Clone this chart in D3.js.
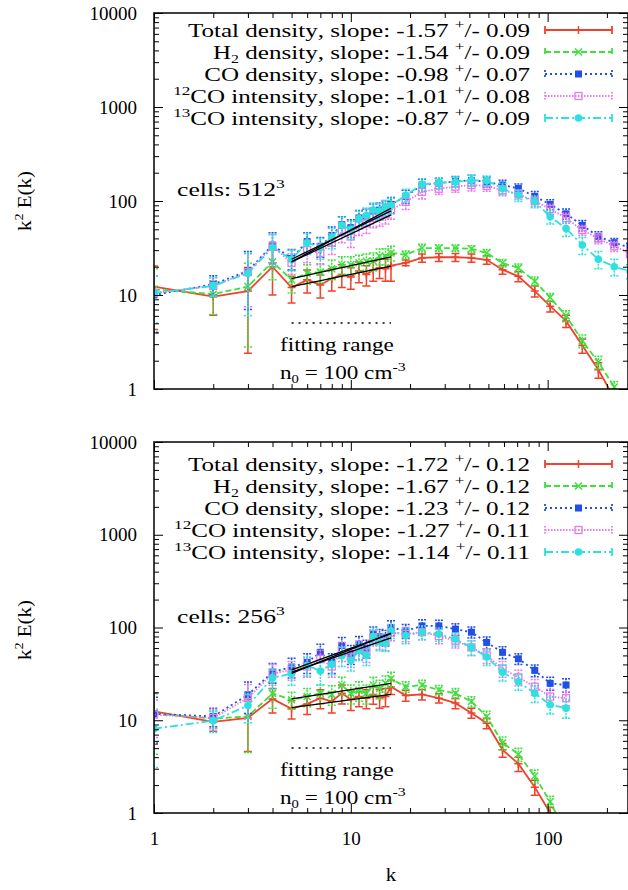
<!DOCTYPE html>
<meta charset="utf-8">
<script src="https://d3js.org/d3.v7.min.js"></script>
<style>
  body { margin: 0; background: #fff; }
</style>
<div id="chart"></div>
<script>
// ---- data: 512^3 run (top panel) ----
const kTop = [1,2,3,4,5,6,7,8,9,10,11,12,13,14,15,16,19,23,28,34,41,49,59,71,86,103,124,150,181,218,262];
const totalTop = [12.3,9.6,11,20,12,14.5,12.8,15,16.5,15.5,18,16.5,18.5,19.5,19,20.5,22,24.8,25.2,25.2,24.8,23.7,18.6,15.8,11,7.6,5.3,2.9,1.6,0.8,0.4];
const h2Top    = [11.5,10.2,12.3,22.5,14.5,17,17.5,19,21,21,22,22.8,23,25.8,26,28,26.8,31.6,31.6,31.6,31,28,21.9,19.4,14,9.4,6,3.25,1.93,1.05,0.5];
const coTop    = [10,13,18,34,24.5,37,33,43,56,52,66,68,78,80,84,92,112,148,155,162,166,160,148,136,112,92,73,55,42,36,32];
const co12Top  = [10.5,12.5,17.5,33,22,30,28,36,47,42,55,58,66,68,72,80,98,125,135,142,148,145,130,118,100,82,66,49,40,33,28];
const co13Top  = [10.5,12.5,17,32,24,36,32,41,55,50,65,70,80,78,86,90,115,150,156,160,166,165,136,115,98.6,68,51,34,24,20,18];
const totalTopErr = [8,3.5,8.6,10,3.8,4,3.5,4,4.5,4,4.5,4,4.5,4.5,5,6.5,1.5,2.5,2.5,2.5,2.5,2.5,2,2,1.5,1,0.8,0.5,0.3,0.15,0.08];
const h2TopErr    = [7.5,4,9.5,8,4,4,4,4.5,4.5,4.5,4.5,4.5,5,5,5,5,2.5,3,2.5,2.5,2.5,2.5,2,2,1.5,1,0.8,0.5,0.3,0.15,0.08];
const coTopErr    = [6,3,11,12,6,9,8,10,12,11,13,14,15,15,16,17,18,22,20,20,22,20,18,16,14,11,9,7,5,4,3.5];
const co12TopErr  = [5.5,2.8,10,11,5.5,8,7,9,11,10,12,13,14,14,15,16,17,20,18,18,20,18,16,14,12,10,8,6,5,4,3];
const co13TopErr  = [5.5,2.8,11,12,6,9,8,10,12,11,13,14,15,15,16,17,18,22,20,20,22,20,18,16,14,11,9,7,5,4,3];
const slopesTop    = [-1.57,-1.54,-0.98,-1.01,-0.87];
const slopeErrTop  = [0.09,0.09,0.07,0.08,0.09];
const fitAmpTop    = [12.3,14.9,24,22.5,22.5];   // k^2 E(k) of each fit at k = 5

// ---- data: 256^3 run (bottom panel) ----
const kBot = [1,2,3,4,5,6,7,8,9,10,11,12,13,14,15,16,19,23,28,34,41,49,59,71,86,103,124];
const totalBot = [12.5,9.6,10.6,17,13.3,15,17.3,16,19.5,16.7,18,17.3,18.9,17.5,18,23,18.5,19,17.3,15.3,12,9.3,4.8,3.4,1.9,1.0,0.45];
const h2Bot    = [11.8,10.4,11,19.5,16.6,18,19.5,19,24,19.5,21,19.5,24,22,25,28,23,24,21.2,19.5,15.9,11,5.7,4.3,2.5,1.32,0.6];
const coBot    = [11.7,11,18.8,33,37.5,42,54,42,64,52,66,60,85,80,78,100,92,104,104,96,89,69,54,46,34.5,25,24];
const co12Bot  = [11.5,10.6,17.3,31.8,35,38,46,38,56,48,58,54,78,72,70,88,85,89,81,72,61,50,36,29,23,18,17.3];
const co13Bot  = [8.1,9.9,14.4,28.7,31.8,39,34,40,50,44,56,50,80,70,68,92,82,89,85,75,61,48,33,26,19.5,14.7,13.5];
const totalBotErr = [7,2,6,5,3,3.5,4,4,4.5,4,4,4,4,4,4,4,2.5,2.5,2,2,1.5,1.2,0.8,0.6,0.35,0.15,0.08];
const h2BotErr    = [7.5,2.2,6.5,6,3.5,4,4.5,4.5,5,4.5,5,4.5,5,5,5,5,3,3,2.5,2.5,2,1.5,0.9,0.7,0.4,0.2,0.1];
const coBotErr    = [6,2.5,7,8,9,10,12,10,14,12,14,13,16,15,15,18,16,17,16,14,12,10,8,6,5,4,4];
const co12BotErr  = [5,2.5,7,8,8,9,11,9,13,11,13,12,15,14,14,16,15,15,14,12,11,9,7,5.5,4.5,3.5,3];
const co13BotErr  = [5,2.5,5,7,8,9,10,9,12,10,12,11,15,14,13,16,15,15,14,12,11,9,6.5,5,4,3,3];
const slopesBot    = [-1.72,-1.67,-1.23,-1.27,-1.14];
const slopeErrBot  = [0.12,0.12,0.12,0.11,0.11];
const fitAmpBot    = [13.7,17,35,33,32];

const fitRange = [5, 16];

// series look (gnuplot-ish)
const styles = [
  {color: "#f0422c", dash: null,        mark: "plus"},
  {color: "#3ee03e", dash: "6,3",       mark: "cross"},
  {color: "#2150e6", dash: "2,3",       mark: "fsquare"},
  {color: "#e87ae8", dash: "1.5,1.5",   mark: "osquare"},
  {color: "#2ee0e0", dash: "8,3,2,3",   mark: "fcircle"}
];
// legend names: [text, kind] parts
const names = [
  [["Total density", ""]],
  [["H", ""], ["2", "sub"], [" density", ""]],
  [["CO density", ""]],
  [["12", "sup"], ["CO intensity", ""]],
  [["13", "sup"], ["CO intensity", ""]]
];

const W = 628, H = 890;
const x0 = 154, x1 = 628;
const FS = 19;                       // base font size
const FONT = "Liberation Serif, DejaVu Serif, Times New Roman, serif";
const x = d3.scaleLog().domain([1, 256]).range([x0, x1]);

const svg = d3.select("#chart").append("svg")
  .attr("width", W).attr("height", H).attr("font-family", FONT);

// text with sub/superscripts, stretched horizontally by sx
function addText(g, parts, px, py, anchor, sx, rot) {
  const holder = g.append("g")
    .attr("transform", `translate(${px},${py})` + (rot ? ` rotate(${rot})` : "") + ` scale(${sx},1)`);
  const t = holder.append("text").attr("font-size", FS).attr("font-family", FONT)
    .attr("text-anchor", anchor || "start");
  let shift = 0;
  parts.forEach(([s, kind]) => {
    const ts = t.append("tspan").text(s);
    const target = kind === "sup" ? -8 : kind === "sub" ? 4 : 0;
    ts.attr("dy", target - shift);
    if (kind) ts.attr("font-size", kind === "sub" ? 12 : 13);
    shift = target;
  });
  return t;
}

function marker(g, type, cx, cy, color) {
  if (type === "plus") {
    g.append("path").attr("d", `M${cx-4},${cy}H${cx+4}M${cx},${cy-4}V${cy+4}`)
      .attr("stroke", color).attr("stroke-width", 1.5);
  } else if (type === "cross") {
    g.append("path").attr("d", `M${cx-3.5},${cy-3.5}L${cx+3.5},${cy+3.5}M${cx-3.5},${cy+3.5}L${cx+3.5},${cy-3.5}`)
      .attr("stroke", color).attr("stroke-width", 1.5);
  } else if (type === "fsquare") {
    g.append("rect").attr("x", cx-3.5).attr("y", cy-3.5).attr("width", 7).attr("height", 7).attr("fill", color);
  } else if (type === "osquare") {
    g.append("rect").attr("x", cx-3.5).attr("y", cy-3.5).attr("width", 7).attr("height", 7)
      .attr("fill", "none").attr("stroke", color).attr("stroke-width", 1.3);
  } else {
    g.append("circle").attr("cx", cx).attr("cy", cy).attr("r", 3.8).attr("fill", color);
  }
}

function panel(id, k, series, errs, slopes, slopeErrs, fitAmp, yTop, yBot, opts) {
  const y = d3.scaleLog().domain([1, 10000]).range([yBot, yTop]);
  const g = svg.append("g");

  svg.append("clipPath").attr("id", "clip" + id)
    .append("rect").attr("x", x0).attr("y", yTop).attr("width", x1 - x0).attr("height", yBot - yTop);

  const plot = g.append("g").attr("clip-path", `url(#clip${id})`);
  const line = d3.line().x(d => x(d.k)).y(d => y(d.v));

  series.forEach((vals, i) => {
    const st = styles[i];
    const pts = k.map((kk, j) => ({k: kk, v: vals[j], e: errs[i][j]}));
    const sg = plot.append("g");
    sg.append("path").datum(pts).attr("d", line)
      .attr("fill", "none").attr("stroke", st.color).attr("stroke-width", 1.8)
      .attr("stroke-dasharray", st.dash);
    pts.forEach(p => {
      const px = x(p.k);
      const lo = y(Math.max(p.v - p.e, 0.01)), hi = y(p.v + p.e);
      sg.append("path")
        .attr("d", `M${px},${lo}V${hi}M${px-4},${lo}H${px+4}M${px-4},${hi}H${px+4}`)
        .attr("stroke", st.color).attr("stroke-width", 1.5).attr("fill", "none")
        .attr("stroke-dasharray", i === 0 ? null : "2,1");
      marker(sg, st.mark, px, y(p.v), st.color);
    });
  });

  // power-law fits over the fitting range
  series.forEach((vals, i) => {
    const ex = slopes[i] + 2;
    const f = fitRange.map(kk => ({k: kk, v: fitAmp[i] * Math.pow(kk / fitRange[0], ex)}));
    plot.append("path").datum(f).attr("d", line)
      .attr("stroke", "#000").attr("stroke-width", 1.3).attr("fill", "none");
  });

  // dotted fitting range marker
  g.append("line")
    .attr("x1", x(fitRange[0])).attr("x2", x(fitRange[1]))
    .attr("y1", opts.rangeY).attr("y2", opts.rangeY)
    .attr("stroke", "#000").attr("stroke-width", 1.5).attr("stroke-dasharray", "2,5");

  // axes (ticks inward on all four sides)
  const yMajor = [1, 10, 100, 1000, 10000];
  const yMinor = [];
  [1, 10, 100, 1000].forEach(d => { for (let m = 2; m <= 9; m++) yMinor.push(d * m); });
  const xMajor = [1, 10, 100];
  const xMinor = [];
  [1, 10, 100].forEach(d => { for (let m = 2; m <= 9; m++) if (d * m <= 256) xMinor.push(d * m); });

  const ax = g.append("g");
  ax.append("g").attr("transform", `translate(${x0},0)`)
    .call(d3.axisLeft(y).tickValues(yMajor).tickSize(-9).tickPadding(17).tickFormat(d3.format("d")));
  ax.append("g").attr("transform", `translate(${x0},0)`)
    .call(d3.axisLeft(y).tickValues(yMinor).tickSize(-5).tickFormat(""));
  ax.append("g").attr("transform", `translate(${x1},0)`)
    .call(d3.axisRight(y).tickValues(yMajor).tickSize(-9).tickFormat(""));
  ax.append("g").attr("transform", `translate(${x1},0)`)
    .call(d3.axisRight(y).tickValues(yMinor).tickSize(-5).tickFormat(""));
  ax.append("g").attr("transform", `translate(0,${yBot})`)
    .call(d3.axisBottom(x).tickValues(xMajor).tickSize(-9).tickPadding(19)
      .tickFormat(opts.xLabels ? d3.format("d") : ""));
  ax.append("g").attr("transform", `translate(0,${yBot})`)
    .call(d3.axisBottom(x).tickValues(xMinor).tickSize(-5).tickFormat(""));
  ax.append("g").attr("transform", `translate(0,${yTop})`)
    .call(d3.axisTop(x).tickValues(xMajor).tickSize(-9).tickFormat(""));
  ax.append("g").attr("transform", `translate(0,${yTop})`)
    .call(d3.axisTop(x).tickValues(xMinor).tickSize(-5).tickFormat(""));
  ax.selectAll(".domain").remove();
  ax.selectAll("g").attr("font-family", FONT).attr("font-size", FS);
  ax.selectAll("line").attr("stroke", "#000").attr("stroke-width", 1);
  ax.selectAll("text").attr("fill", "#000");

  g.append("rect").attr("x", x0).attr("y", yTop).attr("width", x1 - x0).attr("height", yBot - yTop)
    .attr("fill", "none").attr("stroke", "#000").attr("stroke-width", 1.5);

  // y title
  addText(g, [["k", ""], ["2", "sup"], [" E(k)", ""]], 31, opts.titleY, "middle", 1.1, -90);

  // legend
  const lg = g.append("g");
  series.forEach((vals, i) => {
    const ry = opts.legendY + i * 22;
    const st = styles[i];
    const parts = names[i].concat([
      [", slope: " + slopes[i].toFixed(2) + " ", ""], ["+", "sup"], ["/- " + slopeErrs[i].toFixed(2), ""]
    ]);
    addText(lg, parts, 530, ry + 7, "end", 1.32);
    lg.append("path")
      .attr("d", `M545,${ry}H612M545,${ry-4}V${ry+4}M612,${ry-4}V${ry+4}`)
      .attr("stroke", st.color).attr("stroke-width", 1.8).attr("fill", "none")
      .attr("stroke-dasharray", st.dash);
    marker(lg, st.mark, 578.5, ry, st.color);
  });

  // annotations
  addText(g, [["cells: " + opts.cells, ""], ["3", "sup"]], 177, opts.cellsY, "start", 1.35);
  addText(g, [["fitting range", ""]], 280, opts.rangeY + 28, "start", 1.22);
  addText(g, [["n", ""], ["0", "sub"], [" = 100 cm", ""], ["-3", "sup"]], 280, opts.rangeY + 56, "start", 1.22);
}

panel("top", kTop,
  [totalTop, h2Top, coTop, co12Top, co13Top],
  [totalTopErr, h2TopErr, coTopErr, co12TopErr, co13TopErr],
  slopesTop, slopeErrTop, fitAmpTop, 13, 389,
  {xLabels: false, legendY: 30, cells: "512", cellsY: 196, rangeY: 323, titleY: 201});

panel("bot", kBot,
  [totalBot, h2Bot, coBot, co12Bot, co13Bot],
  [totalBotErr, h2BotErr, coBotErr, co12BotErr, co13BotErr],
  slopesBot, slopeErrBot, fitAmpBot, 442, 813,
  {xLabels: true, legendY: 464, cells: "256", cellsY: 623, rangeY: 748, titleY: 630});

// x title
addText(svg, [["k", ""]], 391, 881, "middle", 1.1);
</script>
